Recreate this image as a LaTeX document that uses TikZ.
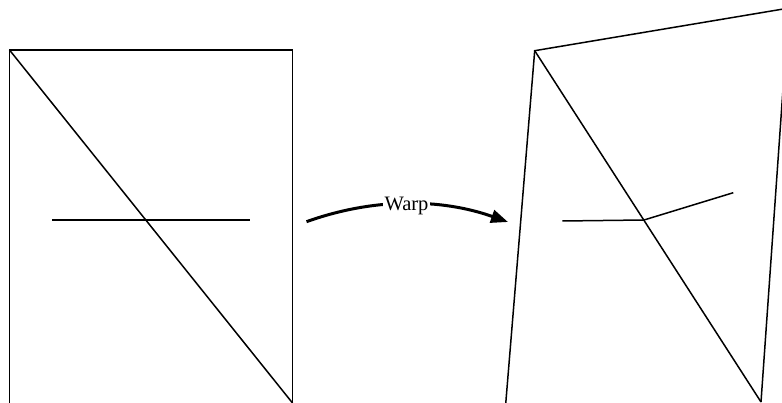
\documentclass[tikz,border=0pt]{standalone}
\usepackage{fontspec}
\setmainfont{Liberation Serif}
\usetikzlibrary{arrows.meta}
\begin{document}
\begin{tikzpicture}[x=1pt,y=-1pt,
  edge/.style={line width=1.5pt,line join=miter},
  warparrow/.style={line width=3pt,-{Triangle[length=17pt,width=13pt]}},
  warplabel/.style={fill=white,inner sep=1.5pt,anchor=base,font=\fontsize{20.5}{22}\selectfont}]
\useasboundingbox (0,0) rectangle (782,403);
\clip (0,0) rectangle (782,403);
% left rectangle
\coordinate (lTL) at (9.5,50);
\coordinate (lTR) at (292.5,50);
\coordinate (lBL) at (9.5,410);
\coordinate (lBR) at (292.5,410);
\coordinate (lD) at (292.5,403);
\coordinate (lH1) at (52,220);
\coordinate (lH2) at (250,220);
\draw[edge] (lBL) -- (lTL) -- (lTR) -- (lBR);
\draw[edge] (lTL) -- (lD);
\draw[edge] (lH1) -- (lH2);
% right warped shape
\coordinate (rTL) at (534.7,50.7);
\coordinate (rTR) at (788.7,8.1);
\coordinate (rBR) at (761,402);
\coordinate (rBL) at (505.2,410);
\coordinate (rH1) at (562.3,221);
\coordinate (rH2) at (644,220);
\coordinate (rH3) at (733.3,192.7);
\draw[edge] (rBL) -- (rTL) -- (rTR) -- (rBR);
\draw[edge] (rTL) -- (rBR);
\draw[edge] (rH1) -- (rH2) -- (rH3);
% warp arrow
\coordinate (aS) at (306.5,221.7);
\coordinate (aE) at (508,222);
\draw[warparrow] (aS) .. controls (372.8,197.9) and (440,198) .. (aE);
\node[warplabel] (warp) at (406.5,210.8) {Warp};
\end{tikzpicture}
\end{document}
